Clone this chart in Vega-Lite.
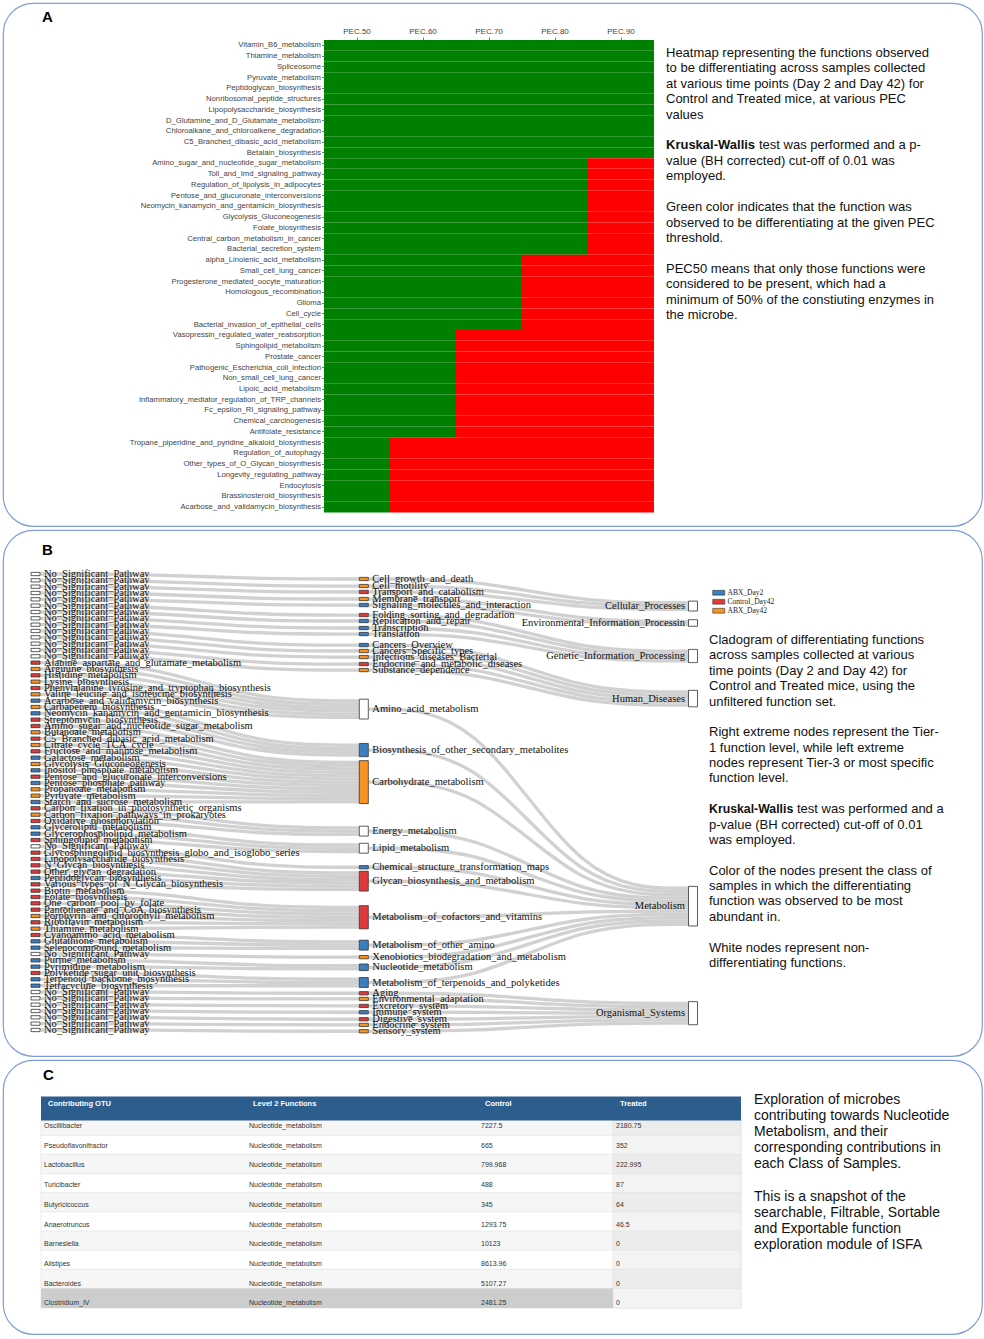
{
"$schema": "https://vega.github.io/schema/vega-lite/v6.json",
"background": "white",
"padding": {"left": 2, "top": 2, "right": 2, "bottom": 0},
"spacing": 2,
"config": {"font": "Liberation Sans", "view": {"continuousWidth": 300}},
"resolve": {"scale": {"fill": "independent", "size": "independent"}, "legend": {"fill": "independent"}},
"datasets": {
"heat": [
{"f":"Vitamin_B6_metabolism","p":"PEC.50","s":"Y"},{"f":"Vitamin_B6_metabolism","p":"PEC.60","s":"Y"},{"f":"Vitamin_B6_metabolism","p":"PEC.70","s":"Y"},{"f":"Vitamin_B6_metabolism","p":"PEC.80","s":"Y"},{"f":"Vitamin_B6_metabolism","p":"PEC.90","s":"Y"},
{"f":"Thiamine_metabolism","p":"PEC.50","s":"Y"},{"f":"Thiamine_metabolism","p":"PEC.60","s":"Y"},{"f":"Thiamine_metabolism","p":"PEC.70","s":"Y"},{"f":"Thiamine_metabolism","p":"PEC.80","s":"Y"},{"f":"Thiamine_metabolism","p":"PEC.90","s":"Y"},
{"f":"Spliceosome","p":"PEC.50","s":"Y"},{"f":"Spliceosome","p":"PEC.60","s":"Y"},{"f":"Spliceosome","p":"PEC.70","s":"Y"},{"f":"Spliceosome","p":"PEC.80","s":"Y"},{"f":"Spliceosome","p":"PEC.90","s":"Y"},
{"f":"Pyruvate_metabolism","p":"PEC.50","s":"Y"},{"f":"Pyruvate_metabolism","p":"PEC.60","s":"Y"},{"f":"Pyruvate_metabolism","p":"PEC.70","s":"Y"},{"f":"Pyruvate_metabolism","p":"PEC.80","s":"Y"},{"f":"Pyruvate_metabolism","p":"PEC.90","s":"Y"},
{"f":"Peptidoglycan_biosynthesis","p":"PEC.50","s":"Y"},{"f":"Peptidoglycan_biosynthesis","p":"PEC.60","s":"Y"},{"f":"Peptidoglycan_biosynthesis","p":"PEC.70","s":"Y"},{"f":"Peptidoglycan_biosynthesis","p":"PEC.80","s":"Y"},{"f":"Peptidoglycan_biosynthesis","p":"PEC.90","s":"Y"},
{"f":"Nonribosomal_peptide_structures","p":"PEC.50","s":"Y"},{"f":"Nonribosomal_peptide_structures","p":"PEC.60","s":"Y"},{"f":"Nonribosomal_peptide_structures","p":"PEC.70","s":"Y"},{"f":"Nonribosomal_peptide_structures","p":"PEC.80","s":"Y"},{"f":"Nonribosomal_peptide_structures","p":"PEC.90","s":"Y"},
{"f":"Lipopolysaccharide_biosynthesis","p":"PEC.50","s":"Y"},{"f":"Lipopolysaccharide_biosynthesis","p":"PEC.60","s":"Y"},{"f":"Lipopolysaccharide_biosynthesis","p":"PEC.70","s":"Y"},{"f":"Lipopolysaccharide_biosynthesis","p":"PEC.80","s":"Y"},{"f":"Lipopolysaccharide_biosynthesis","p":"PEC.90","s":"Y"},
{"f":"D_Glutamine_and_D_Glutamate_metabolism","p":"PEC.50","s":"Y"},{"f":"D_Glutamine_and_D_Glutamate_metabolism","p":"PEC.60","s":"Y"},{"f":"D_Glutamine_and_D_Glutamate_metabolism","p":"PEC.70","s":"Y"},{"f":"D_Glutamine_and_D_Glutamate_metabolism","p":"PEC.80","s":"Y"},{"f":"D_Glutamine_and_D_Glutamate_metabolism","p":"PEC.90","s":"Y"},
{"f":"Chloroalkane_and_chloroalkene_degradation","p":"PEC.50","s":"Y"},{"f":"Chloroalkane_and_chloroalkene_degradation","p":"PEC.60","s":"Y"},{"f":"Chloroalkane_and_chloroalkene_degradation","p":"PEC.70","s":"Y"},{"f":"Chloroalkane_and_chloroalkene_degradation","p":"PEC.80","s":"Y"},{"f":"Chloroalkane_and_chloroalkene_degradation","p":"PEC.90","s":"Y"},
{"f":"C5_Branched_dibasic_acid_metabolism","p":"PEC.50","s":"Y"},{"f":"C5_Branched_dibasic_acid_metabolism","p":"PEC.60","s":"Y"},{"f":"C5_Branched_dibasic_acid_metabolism","p":"PEC.70","s":"Y"},{"f":"C5_Branched_dibasic_acid_metabolism","p":"PEC.80","s":"Y"},{"f":"C5_Branched_dibasic_acid_metabolism","p":"PEC.90","s":"Y"},
{"f":"Betalain_biosynthesis","p":"PEC.50","s":"Y"},{"f":"Betalain_biosynthesis","p":"PEC.60","s":"Y"},{"f":"Betalain_biosynthesis","p":"PEC.70","s":"Y"},{"f":"Betalain_biosynthesis","p":"PEC.80","s":"Y"},{"f":"Betalain_biosynthesis","p":"PEC.90","s":"Y"},
{"f":"Amino_sugar_and_nucleotide_sugar_metabolism","p":"PEC.50","s":"Y"},{"f":"Amino_sugar_and_nucleotide_sugar_metabolism","p":"PEC.60","s":"Y"},{"f":"Amino_sugar_and_nucleotide_sugar_metabolism","p":"PEC.70","s":"Y"},{"f":"Amino_sugar_and_nucleotide_sugar_metabolism","p":"PEC.80","s":"Y"},{"f":"Amino_sugar_and_nucleotide_sugar_metabolism","p":"PEC.90","s":"N"},
{"f":"Toll_and_Imd_signaling_pathway","p":"PEC.50","s":"Y"},{"f":"Toll_and_Imd_signaling_pathway","p":"PEC.60","s":"Y"},{"f":"Toll_and_Imd_signaling_pathway","p":"PEC.70","s":"Y"},{"f":"Toll_and_Imd_signaling_pathway","p":"PEC.80","s":"Y"},{"f":"Toll_and_Imd_signaling_pathway","p":"PEC.90","s":"N"},
{"f":"Regulation_of_lipolysis_in_adipocytes","p":"PEC.50","s":"Y"},{"f":"Regulation_of_lipolysis_in_adipocytes","p":"PEC.60","s":"Y"},{"f":"Regulation_of_lipolysis_in_adipocytes","p":"PEC.70","s":"Y"},{"f":"Regulation_of_lipolysis_in_adipocytes","p":"PEC.80","s":"Y"},{"f":"Regulation_of_lipolysis_in_adipocytes","p":"PEC.90","s":"N"},
{"f":"Pentose_and_glucuronate_interconversions","p":"PEC.50","s":"Y"},{"f":"Pentose_and_glucuronate_interconversions","p":"PEC.60","s":"Y"},{"f":"Pentose_and_glucuronate_interconversions","p":"PEC.70","s":"Y"},{"f":"Pentose_and_glucuronate_interconversions","p":"PEC.80","s":"Y"},{"f":"Pentose_and_glucuronate_interconversions","p":"PEC.90","s":"N"},
{"f":"Neomycin_kanamycin_and_gentamicin_biosynthesis","p":"PEC.50","s":"Y"},{"f":"Neomycin_kanamycin_and_gentamicin_biosynthesis","p":"PEC.60","s":"Y"},{"f":"Neomycin_kanamycin_and_gentamicin_biosynthesis","p":"PEC.70","s":"Y"},{"f":"Neomycin_kanamycin_and_gentamicin_biosynthesis","p":"PEC.80","s":"Y"},{"f":"Neomycin_kanamycin_and_gentamicin_biosynthesis","p":"PEC.90","s":"N"},
{"f":"Glycolysis_Gluconeogenesis","p":"PEC.50","s":"Y"},{"f":"Glycolysis_Gluconeogenesis","p":"PEC.60","s":"Y"},{"f":"Glycolysis_Gluconeogenesis","p":"PEC.70","s":"Y"},{"f":"Glycolysis_Gluconeogenesis","p":"PEC.80","s":"Y"},{"f":"Glycolysis_Gluconeogenesis","p":"PEC.90","s":"N"},
{"f":"Folate_biosynthesis","p":"PEC.50","s":"Y"},{"f":"Folate_biosynthesis","p":"PEC.60","s":"Y"},{"f":"Folate_biosynthesis","p":"PEC.70","s":"Y"},{"f":"Folate_biosynthesis","p":"PEC.80","s":"Y"},{"f":"Folate_biosynthesis","p":"PEC.90","s":"N"},
{"f":"Central_carbon_metabolism_in_cancer","p":"PEC.50","s":"Y"},{"f":"Central_carbon_metabolism_in_cancer","p":"PEC.60","s":"Y"},{"f":"Central_carbon_metabolism_in_cancer","p":"PEC.70","s":"Y"},{"f":"Central_carbon_metabolism_in_cancer","p":"PEC.80","s":"Y"},{"f":"Central_carbon_metabolism_in_cancer","p":"PEC.90","s":"N"},
{"f":"Bacterial_secretion_system","p":"PEC.50","s":"Y"},{"f":"Bacterial_secretion_system","p":"PEC.60","s":"Y"},{"f":"Bacterial_secretion_system","p":"PEC.70","s":"Y"},{"f":"Bacterial_secretion_system","p":"PEC.80","s":"Y"},{"f":"Bacterial_secretion_system","p":"PEC.90","s":"N"},
{"f":"alpha_Linolenic_acid_metabolism","p":"PEC.50","s":"Y"},{"f":"alpha_Linolenic_acid_metabolism","p":"PEC.60","s":"Y"},{"f":"alpha_Linolenic_acid_metabolism","p":"PEC.70","s":"Y"},{"f":"alpha_Linolenic_acid_metabolism","p":"PEC.80","s":"N"},{"f":"alpha_Linolenic_acid_metabolism","p":"PEC.90","s":"N"},
{"f":"Small_cell_lung_cancer","p":"PEC.50","s":"Y"},{"f":"Small_cell_lung_cancer","p":"PEC.60","s":"Y"},{"f":"Small_cell_lung_cancer","p":"PEC.70","s":"Y"},{"f":"Small_cell_lung_cancer","p":"PEC.80","s":"N"},{"f":"Small_cell_lung_cancer","p":"PEC.90","s":"N"},
{"f":"Progesterone_mediated_oocyte_maturation","p":"PEC.50","s":"Y"},{"f":"Progesterone_mediated_oocyte_maturation","p":"PEC.60","s":"Y"},{"f":"Progesterone_mediated_oocyte_maturation","p":"PEC.70","s":"Y"},{"f":"Progesterone_mediated_oocyte_maturation","p":"PEC.80","s":"N"},{"f":"Progesterone_mediated_oocyte_maturation","p":"PEC.90","s":"N"},
{"f":"Homologous_recombination","p":"PEC.50","s":"Y"},{"f":"Homologous_recombination","p":"PEC.60","s":"Y"},{"f":"Homologous_recombination","p":"PEC.70","s":"Y"},{"f":"Homologous_recombination","p":"PEC.80","s":"N"},{"f":"Homologous_recombination","p":"PEC.90","s":"N"},
{"f":"Glioma","p":"PEC.50","s":"Y"},{"f":"Glioma","p":"PEC.60","s":"Y"},{"f":"Glioma","p":"PEC.70","s":"Y"},{"f":"Glioma","p":"PEC.80","s":"N"},{"f":"Glioma","p":"PEC.90","s":"N"},
{"f":"Cell_cycle","p":"PEC.50","s":"Y"},{"f":"Cell_cycle","p":"PEC.60","s":"Y"},{"f":"Cell_cycle","p":"PEC.70","s":"Y"},{"f":"Cell_cycle","p":"PEC.80","s":"N"},{"f":"Cell_cycle","p":"PEC.90","s":"N"},
{"f":"Bacterial_invasion_of_epithelial_cells","p":"PEC.50","s":"Y"},{"f":"Bacterial_invasion_of_epithelial_cells","p":"PEC.60","s":"Y"},{"f":"Bacterial_invasion_of_epithelial_cells","p":"PEC.70","s":"Y"},{"f":"Bacterial_invasion_of_epithelial_cells","p":"PEC.80","s":"N"},{"f":"Bacterial_invasion_of_epithelial_cells","p":"PEC.90","s":"N"},
{"f":"Vasopressin_regulated_water_reabsorption","p":"PEC.50","s":"Y"},{"f":"Vasopressin_regulated_water_reabsorption","p":"PEC.60","s":"Y"},{"f":"Vasopressin_regulated_water_reabsorption","p":"PEC.70","s":"N"},{"f":"Vasopressin_regulated_water_reabsorption","p":"PEC.80","s":"N"},{"f":"Vasopressin_regulated_water_reabsorption","p":"PEC.90","s":"N"},
{"f":"Sphingolipid_metabolism","p":"PEC.50","s":"Y"},{"f":"Sphingolipid_metabolism","p":"PEC.60","s":"Y"},{"f":"Sphingolipid_metabolism","p":"PEC.70","s":"N"},{"f":"Sphingolipid_metabolism","p":"PEC.80","s":"N"},{"f":"Sphingolipid_metabolism","p":"PEC.90","s":"N"},
{"f":"Prostate_cancer","p":"PEC.50","s":"Y"},{"f":"Prostate_cancer","p":"PEC.60","s":"Y"},{"f":"Prostate_cancer","p":"PEC.70","s":"N"},{"f":"Prostate_cancer","p":"PEC.80","s":"N"},{"f":"Prostate_cancer","p":"PEC.90","s":"N"},
{"f":"Pathogenic_Escherichia_coli_infection","p":"PEC.50","s":"Y"},{"f":"Pathogenic_Escherichia_coli_infection","p":"PEC.60","s":"Y"},{"f":"Pathogenic_Escherichia_coli_infection","p":"PEC.70","s":"N"},{"f":"Pathogenic_Escherichia_coli_infection","p":"PEC.80","s":"N"},{"f":"Pathogenic_Escherichia_coli_infection","p":"PEC.90","s":"N"},
{"f":"Non_small_cell_lung_cancer","p":"PEC.50","s":"Y"},{"f":"Non_small_cell_lung_cancer","p":"PEC.60","s":"Y"},{"f":"Non_small_cell_lung_cancer","p":"PEC.70","s":"N"},{"f":"Non_small_cell_lung_cancer","p":"PEC.80","s":"N"},{"f":"Non_small_cell_lung_cancer","p":"PEC.90","s":"N"},
{"f":"Lipoic_acid_metabolism","p":"PEC.50","s":"Y"},{"f":"Lipoic_acid_metabolism","p":"PEC.60","s":"Y"},{"f":"Lipoic_acid_metabolism","p":"PEC.70","s":"N"},{"f":"Lipoic_acid_metabolism","p":"PEC.80","s":"N"},{"f":"Lipoic_acid_metabolism","p":"PEC.90","s":"N"},
{"f":"Inflammatory_mediator_regulation_of_TRP_channels","p":"PEC.50","s":"Y"},{"f":"Inflammatory_mediator_regulation_of_TRP_channels","p":"PEC.60","s":"Y"},{"f":"Inflammatory_mediator_regulation_of_TRP_channels","p":"PEC.70","s":"N"},{"f":"Inflammatory_mediator_regulation_of_TRP_channels","p":"PEC.80","s":"N"},{"f":"Inflammatory_mediator_regulation_of_TRP_channels","p":"PEC.90","s":"N"},
{"f":"Fc_epsilon_RI_signaling_pathway","p":"PEC.50","s":"Y"},{"f":"Fc_epsilon_RI_signaling_pathway","p":"PEC.60","s":"Y"},{"f":"Fc_epsilon_RI_signaling_pathway","p":"PEC.70","s":"N"},{"f":"Fc_epsilon_RI_signaling_pathway","p":"PEC.80","s":"N"},{"f":"Fc_epsilon_RI_signaling_pathway","p":"PEC.90","s":"N"},
{"f":"Chemical_carcinogenesis","p":"PEC.50","s":"Y"},{"f":"Chemical_carcinogenesis","p":"PEC.60","s":"Y"},{"f":"Chemical_carcinogenesis","p":"PEC.70","s":"N"},{"f":"Chemical_carcinogenesis","p":"PEC.80","s":"N"},{"f":"Chemical_carcinogenesis","p":"PEC.90","s":"N"},
{"f":"Antifolate_resistance","p":"PEC.50","s":"Y"},{"f":"Antifolate_resistance","p":"PEC.60","s":"Y"},{"f":"Antifolate_resistance","p":"PEC.70","s":"N"},{"f":"Antifolate_resistance","p":"PEC.80","s":"N"},{"f":"Antifolate_resistance","p":"PEC.90","s":"N"},
{"f":"Tropane_piperidine_and_pyridine_alkaloid_biosynthesis","p":"PEC.50","s":"Y"},{"f":"Tropane_piperidine_and_pyridine_alkaloid_biosynthesis","p":"PEC.60","s":"N"},{"f":"Tropane_piperidine_and_pyridine_alkaloid_biosynthesis","p":"PEC.70","s":"N"},{"f":"Tropane_piperidine_and_pyridine_alkaloid_biosynthesis","p":"PEC.80","s":"N"},{"f":"Tropane_piperidine_and_pyridine_alkaloid_biosynthesis","p":"PEC.90","s":"N"},
{"f":"Regulation_of_autophagy","p":"PEC.50","s":"Y"},{"f":"Regulation_of_autophagy","p":"PEC.60","s":"N"},{"f":"Regulation_of_autophagy","p":"PEC.70","s":"N"},{"f":"Regulation_of_autophagy","p":"PEC.80","s":"N"},{"f":"Regulation_of_autophagy","p":"PEC.90","s":"N"},
{"f":"Other_types_of_O_Glycan_biosynthesis","p":"PEC.50","s":"Y"},{"f":"Other_types_of_O_Glycan_biosynthesis","p":"PEC.60","s":"N"},{"f":"Other_types_of_O_Glycan_biosynthesis","p":"PEC.70","s":"N"},{"f":"Other_types_of_O_Glycan_biosynthesis","p":"PEC.80","s":"N"},{"f":"Other_types_of_O_Glycan_biosynthesis","p":"PEC.90","s":"N"},
{"f":"Longevity_regulating_pathway","p":"PEC.50","s":"Y"},{"f":"Longevity_regulating_pathway","p":"PEC.60","s":"N"},{"f":"Longevity_regulating_pathway","p":"PEC.70","s":"N"},{"f":"Longevity_regulating_pathway","p":"PEC.80","s":"N"},{"f":"Longevity_regulating_pathway","p":"PEC.90","s":"N"},
{"f":"Endocytosis","p":"PEC.50","s":"Y"},{"f":"Endocytosis","p":"PEC.60","s":"N"},{"f":"Endocytosis","p":"PEC.70","s":"N"},{"f":"Endocytosis","p":"PEC.80","s":"N"},{"f":"Endocytosis","p":"PEC.90","s":"N"},
{"f":"Brassinosteroid_biosynthesis","p":"PEC.50","s":"Y"},{"f":"Brassinosteroid_biosynthesis","p":"PEC.60","s":"N"},{"f":"Brassinosteroid_biosynthesis","p":"PEC.70","s":"N"},{"f":"Brassinosteroid_biosynthesis","p":"PEC.80","s":"N"},{"f":"Brassinosteroid_biosynthesis","p":"PEC.90","s":"N"},
{"f":"Acarbose_and_validamycin_biosynthesis","p":"PEC.50","s":"Y"},{"f":"Acarbose_and_validamycin_biosynthesis","p":"PEC.60","s":"N"},{"f":"Acarbose_and_validamycin_biosynthesis","p":"PEC.70","s":"N"},{"f":"Acarbose_and_validamycin_biosynthesis","p":"PEC.80","s":"N"},{"f":"Acarbose_and_validamycin_biosynthesis","p":"PEC.90","s":"N"}
],
"pA": [
{"line":0,"k":"n","t":"Heatmap representing the functions observed"},
{"line":1,"k":"n","t":"to be differentiating across samples collected"},
{"line":2,"k":"n","t":"at various time points (Day 2 and Day 42) for"},
{"line":3,"k":"n","t":"Control and Treated mice, at various PEC"},
{"line":4,"k":"n","t":"values"},
{"line":6,"k":"b","t":"Kruskal-Wallis"},
{"line":6,"k":"a","t":"test was performed and a p-"},
{"line":7,"k":"n","t":"value (BH corrected) cut-off of 0.01 was"},
{"line":8,"k":"n","t":"employed."},
{"line":10,"k":"n","t":"Green color indicates that the function was"},
{"line":11,"k":"n","t":"observed to be differentiating at the given PEC"},
{"line":12,"k":"n","t":"threshold."},
{"line":14,"k":"n","t":"PEC50 means that only those functions were"},
{"line":15,"k":"n","t":"considered to be present, which had a"},
{"line":16,"k":"n","t":"minimum of 50% of the constiuting enzymes in"},
{"line":17,"k":"n","t":"the microbe."}
],
"pB": [
{"line":0,"k":"n","t":"Cladogram of differentiating functions"},
{"line":1,"k":"n","t":"across samples collected at various"},
{"line":2,"k":"n","t":"time points (Day 2 and Day 42) for"},
{"line":3,"k":"n","t":"Control and Treated mice, using the"},
{"line":4,"k":"n","t":"unfiltered function set."},
{"line":6,"k":"n","t":"Right extreme nodes represent the Tier-"},
{"line":7,"k":"n","t":"1 function level, while left extreme"},
{"line":8,"k":"n","t":"nodes represent Tier-3 or most specific"},
{"line":9,"k":"n","t":"function level."},
{"line":11,"k":"b","t":"Kruskal-Wallis"},
{"line":11,"k":"a","t":"test was performed and a"},
{"line":12,"k":"n","t":"p-value (BH corrected) cut-off of 0.01"},
{"line":13,"k":"n","t":"was employed."},
{"line":15,"k":"n","t":"Color of the nodes present the class of"},
{"line":16,"k":"n","t":"samples in which the differentiating"},
{"line":17,"k":"n","t":"function was observed to be most"},
{"line":18,"k":"n","t":"abundant in."},
{"line":20,"k":"n","t":"White nodes represent non-"},
{"line":21,"k":"n","t":"differentiating functions."}
],
"pC": [
{"line":0,"t":"Exploration of microbes"},
{"line":1,"t":"contributing towards Nucleotide"},
{"line":2,"t":"Metabolism, and their"},
{"line":3,"t":"corresponding contributions in"},
{"line":4,"t":"each Class of Samples."},
{"line":6,"t":"This is a snapshot of the"},
{"line":7,"t":"searchable, Filtrable, Sortable"},
{"line":8,"t":"and Exportable function"},
{"line":9,"t":"exploration module of ISFA"}
],
"nodes": [
{"name":"No_Significant_Pathway","col":0,"pos":0,"n":1,"cls":"None"},
{"name":"No_Significant_Pathway","col":0,"pos":1,"n":1,"cls":"None"},
{"name":"No_Significant_Pathway","col":0,"pos":2,"n":1,"cls":"None"},
{"name":"No_Significant_Pathway","col":0,"pos":3,"n":1,"cls":"None"},
{"name":"No_Significant_Pathway","col":0,"pos":4,"n":1,"cls":"None"},
{"name":"No_Significant_Pathway","col":0,"pos":5,"n":1,"cls":"None"},
{"name":"No_Significant_Pathway","col":0,"pos":6,"n":1,"cls":"None"},
{"name":"No_Significant_Pathway","col":0,"pos":7,"n":1,"cls":"None"},
{"name":"No_Significant_Pathway","col":0,"pos":8,"n":1,"cls":"None"},
{"name":"No_Significant_Pathway","col":0,"pos":9,"n":1,"cls":"None"},
{"name":"No_Significant_Pathway","col":0,"pos":10,"n":1,"cls":"None"},
{"name":"No_Significant_Pathway","col":0,"pos":11,"n":1,"cls":"None"},
{"name":"No_Significant_Pathway","col":0,"pos":12,"n":1,"cls":"None"},
{"name":"No_Significant_Pathway","col":0,"pos":13,"n":1,"cls":"None"},
{"name":"Alanine_aspartate_and_glutamate_metabolism","col":0,"pos":14,"n":1,"cls":"Control_Day42"},
{"name":"Arginine_biosynthesis","col":0,"pos":15,"n":1,"cls":"ABX_Day42"},
{"name":"Histidine_metabolism","col":0,"pos":16,"n":1,"cls":"Control_Day42"},
{"name":"Lysine_biosynthesis","col":0,"pos":17,"n":1,"cls":"ABX_Day42"},
{"name":"Phenylalanine_tyrosine_and_tryptophan_biosynthesis","col":0,"pos":18,"n":1,"cls":"Control_Day42"},
{"name":"Valine_leucine_and_isoleucine_biosynthesis","col":0,"pos":19,"n":1,"cls":"ABX_Day42"},
{"name":"Acarbose_and_validamycin_biosynthesis","col":0,"pos":20,"n":1,"cls":"ABX_Day2"},
{"name":"Carbapenem_biosynthesis","col":0,"pos":21,"n":1,"cls":"ABX_Day42"},
{"name":"Neomycin_kanamycin_and_gentamicin_biosynthesis","col":0,"pos":22,"n":1,"cls":"ABX_Day2"},
{"name":"Streptomycin_biosynthesis","col":0,"pos":23,"n":1,"cls":"Control_Day42"},
{"name":"Amino_sugar_and_nucleotide_sugar_metabolism","col":0,"pos":24,"n":1,"cls":"Control_Day42"},
{"name":"Butanoate_metabolism","col":0,"pos":25,"n":1,"cls":"ABX_Day42"},
{"name":"C5_Branched_dibasic_acid_metabolism","col":0,"pos":26,"n":1,"cls":"Control_Day42"},
{"name":"Citrate_cycle_TCA_cycle","col":0,"pos":27,"n":1,"cls":"ABX_Day42"},
{"name":"Fructose_and_mannose_metabolism","col":0,"pos":28,"n":1,"cls":"Control_Day42"},
{"name":"Galactose_metabolism","col":0,"pos":29,"n":1,"cls":"ABX_Day2"},
{"name":"Glycolysis_Gluconeogenesis","col":0,"pos":30,"n":1,"cls":"ABX_Day42"},
{"name":"Inositol_phosphate_metabolism","col":0,"pos":31,"n":1,"cls":"ABX_Day2"},
{"name":"Pentose_and_glucuronate_interconversions","col":0,"pos":32,"n":1,"cls":"Control_Day42"},
{"name":"Pentose_phosphate_pathway","col":0,"pos":33,"n":1,"cls":"ABX_Day2"},
{"name":"Propanoate_metabolism","col":0,"pos":34,"n":1,"cls":"ABX_Day42"},
{"name":"Pyruvate_metabolism","col":0,"pos":35,"n":1,"cls":"ABX_Day42"},
{"name":"Starch_and_sucrose_metabolism","col":0,"pos":36,"n":1,"cls":"ABX_Day2"},
{"name":"Carbon_fixation_in_photosynthetic_organisms","col":0,"pos":37,"n":1,"cls":"Control_Day42"},
{"name":"Carbon_fixation_pathways_in_prokaryotes","col":0,"pos":38,"n":1,"cls":"ABX_Day42"},
{"name":"Oxidative_phosphorylation","col":0,"pos":39,"n":1,"cls":"Control_Day42"},
{"name":"Glycerolipid_metabolism","col":0,"pos":40,"n":1,"cls":"ABX_Day2"},
{"name":"Glycerophospholipid_metabolism","col":0,"pos":41,"n":1,"cls":"ABX_Day2"},
{"name":"Sphingolipid_metabolism","col":0,"pos":42,"n":1,"cls":"Control_Day42"},
{"name":"No_Significant_Pathway","col":0,"pos":43,"n":1,"cls":"None"},
{"name":"Glycosphingolipid_biosynthesis_globo_and_isoglobo_series","col":0,"pos":44,"n":1,"cls":"Control_Day42"},
{"name":"Lipopolysaccharide_biosynthesis","col":0,"pos":45,"n":1,"cls":"Control_Day42"},
{"name":"N_Glycan_biosynthesis","col":0,"pos":46,"n":1,"cls":"Control_Day42"},
{"name":"Other_glycan_degradation","col":0,"pos":47,"n":1,"cls":"Control_Day42"},
{"name":"Peptidoglycan_biosynthesis","col":0,"pos":48,"n":1,"cls":"ABX_Day2"},
{"name":"Various_types_of_N_Glycan_biosynthesis","col":0,"pos":49,"n":1,"cls":"Control_Day42"},
{"name":"Biotin_metabolism","col":0,"pos":50,"n":1,"cls":"Control_Day42"},
{"name":"Folate_biosynthesis","col":0,"pos":51,"n":1,"cls":"Control_Day42"},
{"name":"One_carbon_pool_by_folate","col":0,"pos":52,"n":1,"cls":"Control_Day42"},
{"name":"Pantothenate_and_CoA_biosynthesis","col":0,"pos":53,"n":1,"cls":"Control_Day42"},
{"name":"Porphyrin_and_chlorophyll_metabolism","col":0,"pos":54,"n":1,"cls":"ABX_Day42"},
{"name":"Riboflavin_metabolism","col":0,"pos":55,"n":1,"cls":"Control_Day42"},
{"name":"Thiamine_metabolism","col":0,"pos":56,"n":1,"cls":"ABX_Day42"},
{"name":"Cyanoamino_acid_metabolism","col":0,"pos":57,"n":1,"cls":"Control_Day42"},
{"name":"Glutathione_metabolism","col":0,"pos":58,"n":1,"cls":"ABX_Day2"},
{"name":"Selenocompound_metabolism","col":0,"pos":59,"n":1,"cls":"ABX_Day2"},
{"name":"No_Significant_Pathway","col":0,"pos":60,"n":1,"cls":"None"},
{"name":"Purine_metabolism","col":0,"pos":61,"n":1,"cls":"ABX_Day2"},
{"name":"Pyrimidine_metabolism","col":0,"pos":62,"n":1,"cls":"ABX_Day2"},
{"name":"Polyketide_sugar_unit_biosynthesis","col":0,"pos":63,"n":1,"cls":"Control_Day42"},
{"name":"Terpenoid_backbone_biosynthesis","col":0,"pos":64,"n":1,"cls":"ABX_Day2"},
{"name":"Tetracycline_biosynthesis","col":0,"pos":65,"n":1,"cls":"ABX_Day2"},
{"name":"No_Significant_Pathway","col":0,"pos":66,"n":1,"cls":"None"},
{"name":"No_Significant_Pathway","col":0,"pos":67,"n":1,"cls":"None"},
{"name":"No_Significant_Pathway","col":0,"pos":68,"n":1,"cls":"None"},
{"name":"No_Significant_Pathway","col":0,"pos":69,"n":1,"cls":"None"},
{"name":"No_Significant_Pathway","col":0,"pos":70,"n":1,"cls":"None"},
{"name":"No_Significant_Pathway","col":0,"pos":71,"n":1,"cls":"None"},
{"name":"No_Significant_Pathway","col":0,"pos":72,"n":1,"cls":"None"},
{"name":"Cell_growth_and_death","col":1,"pos":0.79,"n":1,"cls":"ABX_Day42"},
{"name":"Cell_motility","col":1,"pos":1.9,"n":1,"cls":"ABX_Day42"},
{"name":"Transport_and_catabolism","col":1,"pos":2.84,"n":1,"cls":"Control_Day42"},
{"name":"Membrane_transport","col":1,"pos":3.95,"n":1,"cls":"ABX_Day42"},
{"name":"Signaling_molecules_and_interaction","col":1,"pos":4.9,"n":1,"cls":"ABX_Day2"},
{"name":"Folding_sorting_and_degradation","col":1,"pos":6.48,"n":1,"cls":"Control_Day42"},
{"name":"Replication_and_repair","col":1,"pos":7.42,"n":1,"cls":"ABX_Day2"},
{"name":"Transcription","col":1,"pos":8.53,"n":1,"cls":"ABX_Day2"},
{"name":"Translation","col":1,"pos":9.48,"n":1,"cls":"ABX_Day2"},
{"name":"Cancers_Overview","col":1,"pos":11.22,"n":1,"cls":"ABX_Day2"},
{"name":"Cancers_Specific_types","col":1,"pos":12.16,"n":1,"cls":"ABX_Day42"},
{"name":"Infectious_diseases_Bacterial","col":1,"pos":13.11,"n":1,"cls":"ABX_Day42"},
{"name":"Endocrine_and_metabolic_diseases","col":1,"pos":14.22,"n":1,"cls":"Control_Day42"},
{"name":"Substance_dependence","col":1,"pos":15.17,"n":1,"cls":"ABX_Day42"},
{"name":"Amino_acid_metabolism","col":1,"pos":21.33,"n":6,"cls":"None"},
{"name":"Biosynthesis_of_other_secondary_metabolites","col":1,"pos":27.8,"n":4,"cls":"ABX_Day2"},
{"name":"Carbohydrate_metabolism","col":1,"pos":32.86,"n":13,"cls":"ABX_Day42"},
{"name":"Energy_metabolism","col":1,"pos":40.6,"n":3,"cls":"None"},
{"name":"Lipid_metabolism","col":1,"pos":43.3,"n":3,"cls":"None"},
{"name":"Chemical_structure_transformation_maps","col":1,"pos":46.3,"n":1,"cls":"ABX_Day2"},
{"name":"Glycan_biosynthesis_and_metabolism","col":1,"pos":48.5,"n":6,"cls":"Control_Day42"},
{"name":"Metabolism_of_cofactors_and_vitamins","col":1,"pos":54.2,"n":7,"cls":"Control_Day42"},
{"name":"Metabolism_of_other_amino","col":1,"pos":58.6,"n":3,"cls":"ABX_Day2"},
{"name":"Xenobiotics_biodegradation_and_metabolism","col":1,"pos":60.5,"n":1,"cls":"ABX_Day42"},
{"name":"Nucleotide_metabolism","col":1,"pos":62.1,"n":2,"cls":"ABX_Day2"},
{"name":"Metabolism_of_terpenoids_and_polyketides","col":1,"pos":64.5,"n":3,"cls":"ABX_Day2"},
{"name":"Aging","col":1,"pos":66.2,"n":1,"cls":"Control_Day42"},
{"name":"Environmental_adaptation","col":1,"pos":67.1,"n":1,"cls":"ABX_Day42"},
{"name":"Excretory_system","col":1,"pos":68.2,"n":1,"cls":"Control_Day42"},
{"name":"Immune_system","col":1,"pos":69.2,"n":1,"cls":"ABX_Day2"},
{"name":"Digestive_system","col":1,"pos":70.3,"n":1,"cls":"Control_Day42"},
{"name":"Endocrine_system","col":1,"pos":71.2,"n":1,"cls":"ABX_Day42"},
{"name":"Sensory_system","col":1,"pos":72.2,"n":1,"cls":"ABX_Day42"},
{"name":"Cellular_Processes","col":2,"pos":5.06,"n":3,"cls":"None"},
{"name":"Environmental_Information_Processin","col":2,"pos":7.74,"n":2,"cls":"None"},
{"name":"Genetic_Information_Processing","col":2,"pos":12.95,"n":4,"cls":"None"},
{"name":"Human_Diseases","col":2,"pos":19.67,"n":5,"cls":"None"},
{"name":"Metabolism","col":2,"pos":52.45,"n":12,"cls":"None"},
{"name":"Organismal_Systems","col":2,"pos":69.35,"n":7,"cls":"None"}
],
"links1": [
{"a":0,"b":0.79},{"a":1,"b":1.9},{"a":2,"b":2.84},{"a":3,"b":3.95},{"a":4,"b":4.9},{"a":5,"b":6.48},{"a":6,"b":7.42},{"a":7,"b":8.53},{"a":8,"b":9.48},{"a":9,"b":11.22},{"a":10,"b":12.16},{"a":11,"b":13.11},{"a":12,"b":14.22},{"a":13,"b":15.17},
{"a":14,"b":20.03},{"a":15,"b":20.55},{"a":16,"b":21.07},{"a":17,"b":21.59},{"a":18,"b":22.11},{"a":19,"b":22.63},
{"a":20,"b":27.02},{"a":21,"b":27.54},{"a":22,"b":28.06},{"a":23,"b":28.58},
{"a":24,"b":29.74},{"a":25,"b":30.26},{"a":26,"b":30.78},{"a":27,"b":31.3},{"a":28,"b":31.82},{"a":29,"b":32.34},{"a":30,"b":32.86},{"a":31,"b":33.38},{"a":32,"b":33.9},{"a":33,"b":34.42},{"a":34,"b":34.94},{"a":35,"b":35.46},{"a":36,"b":35.98},
{"a":37,"b":40.08},{"a":38,"b":40.6},{"a":39,"b":41.12},
{"a":40,"b":42.78},{"a":41,"b":43.3},{"a":42,"b":43.82},
{"a":43,"b":46.3},
{"a":44,"b":47.2},{"a":45,"b":47.72},{"a":46,"b":48.24},{"a":47,"b":48.76},{"a":48,"b":49.28},{"a":49,"b":49.8},
{"a":50,"b":52.64},{"a":51,"b":53.16},{"a":52,"b":53.68},{"a":53,"b":54.2},{"a":54,"b":54.72},{"a":55,"b":55.24},{"a":56,"b":55.76},
{"a":57,"b":58.08},{"a":58,"b":58.6},{"a":59,"b":59.12},
{"a":60,"b":60.5},
{"a":61,"b":61.84},{"a":62,"b":62.36},
{"a":63,"b":63.98},{"a":64,"b":64.5},{"a":65,"b":65.02},
{"a":66,"b":66.2},{"a":67,"b":67.1},{"a":68,"b":68.2},{"a":69,"b":69.2},{"a":70,"b":70.3},{"a":71,"b":71.2},{"a":72,"b":72.2}
],
"links2": [
{"a":0.79,"b":4.54},{"a":1.9,"b":5.06},{"a":2.84,"b":5.58},
{"a":3.95,"b":7.48},{"a":4.9,"b":8.0},
{"a":6.48,"b":12.17},{"a":7.42,"b":12.69},{"a":8.53,"b":13.21},{"a":9.48,"b":13.73},
{"a":11.22,"b":18.63},{"a":12.16,"b":19.15},{"a":13.11,"b":19.67},{"a":14.22,"b":20.19},{"a":15.17,"b":20.71},
{"a":21.33,"b":49.59},{"a":27.8,"b":50.11},{"a":32.86,"b":50.63},{"a":40.6,"b":51.15},{"a":43.3,"b":51.67},{"a":46.3,"b":52.19},{"a":48.5,"b":52.71},{"a":54.2,"b":53.23},{"a":58.6,"b":53.75},{"a":60.5,"b":54.27},{"a":62.1,"b":54.79},{"a":64.5,"b":55.31},
{"a":66.2,"b":67.79},{"a":67.1,"b":68.31},{"a":68.2,"b":68.83},{"a":69.2,"b":69.35},{"a":70.3,"b":69.87},{"a":71.2,"b":70.39},{"a":72.2,"b":70.91}
],
"tcells": [
{"r":0,"c":0,"v":"Contributing OTU"},{"r":0,"c":1,"v":"Level 2 Functions"},{"r":0,"c":2,"v":"Control"},{"r":0,"c":3,"v":"Treated"},
{"r":1,"c":0,"v":"Oscillibacter"},{"r":1,"c":1,"v":"Nucleotide_metabolism"},{"r":1,"c":2,"v":7227.5},{"r":1,"c":3,"v":2180.75},
{"r":2,"c":0,"v":"Pseudoflavonifractor"},{"r":2,"c":1,"v":"Nucleotide_metabolism"},{"r":2,"c":2,"v":665},{"r":2,"c":3,"v":352},
{"r":3,"c":0,"v":"Lactobacillus"},{"r":3,"c":1,"v":"Nucleotide_metabolism"},{"r":3,"c":2,"v":799.968},{"r":3,"c":3,"v":222.995},
{"r":4,"c":0,"v":"Turicibacter"},{"r":4,"c":1,"v":"Nucleotide_metabolism"},{"r":4,"c":2,"v":488},{"r":4,"c":3,"v":87},
{"r":5,"c":0,"v":"Butyricicoccus"},{"r":5,"c":1,"v":"Nucleotide_metabolism"},{"r":5,"c":2,"v":345},{"r":5,"c":3,"v":64},
{"r":6,"c":0,"v":"Anaerotruncus"},{"r":6,"c":1,"v":"Nucleotide_metabolism"},{"r":6,"c":2,"v":1293.75},{"r":6,"c":3,"v":46.5},
{"r":7,"c":0,"v":"Barnesiella"},{"r":7,"c":1,"v":"Nucleotide_metabolism"},{"r":7,"c":2,"v":10123},{"r":7,"c":3,"v":0},
{"r":8,"c":0,"v":"Alistipes"},{"r":8,"c":1,"v":"Nucleotide_metabolism"},{"r":8,"c":2,"v":8613.96},{"r":8,"c":3,"v":0},
{"r":9,"c":0,"v":"Bacteroides"},{"r":9,"c":1,"v":"Nucleotide_metabolism"},{"r":9,"c":2,"v":5107.27},{"r":9,"c":3,"v":0},
{"r":10,"c":0,"v":"Clostridium_IV"},{"r":10,"c":1,"v":"Nucleotide_metabolism"},{"r":10,"c":2,"v":2481.25},{"r":10,"c":3,"v":0}
]
},
"vconcat": [
{
"width": 979, "height": 523,
"view": {"stroke": "#7f9dd6", "strokeWidth": 1.2, "cornerRadius": 30, "fill": "white"},
"resolve": {"scale": {"x": "independent", "y": "independent"}},
"layer": [
{
"data": {"name": "heat"},
"mark": {"type": "rect"},
"encoding": {
"x": {"field": "p", "type": "ordinal", "sort": null, "scale": {"range": [321, 651], "paddingInner": 0, "paddingOuter": 0}, "axis": {"orient": "top", "offset": -37, "title": null, "domain": false, "grid": false, "tickSize": 3, "tickColor": "#777", "labelAngle": 0, "labelFontSize": 8, "labelColor": "#444", "labelPadding": 2, "labelFont": "Liberation Sans"}},
"y": {"field": "f", "type": "nominal", "sort": null, "scale": {"range": [37, 509.5], "paddingInner": 0, "paddingOuter": 0}, "axis": {"orient": "left", "offset": -321, "title": null, "domain": false, "grid": false, "tickSize": 2.5, "tickColor": "#777", "labelFontSize": 7.7, "labelColor": "#444", "labelPadding": 1, "labelLimit": 0, "labelFont": "Liberation Sans"}},
"fill": {"field": "s", "type": "nominal", "scale": {"domain": ["Y", "N"], "range": ["#008000", "#ff0000"]}, "legend": null}
}
},
{
"data": {"values": [{"panel": "A"}]},
"mark": {"type": "text", "align": "left", "baseline": "middle", "font": "Liberation Sans", "fontSize": 15, "fontWeight": "bold", "color": "#000"},
"encoding": {
"x": {"datum": 0, "type": "quantitative", "scale": {"domain": [0, 1], "range": [39, 60], "nice": false}, "axis": null},
"y": {"datum": 0, "type": "quantitative", "scale": {"domain": [0, 1], "range": [14, 30], "nice": false, "zero": false}, "axis": null},
"text": {"field": "panel"}
}
},
{
"data": {"name": "pA"},
"transform": [{"filter": "datum.k == 'n'"}],
"mark": {"type": "text", "align": "left", "baseline": "middle", "font": "Liberation Sans", "fontSize": 13, "color": "#111"},
"encoding": {
"x": {"datum": 0, "type": "quantitative", "scale": {"domain": [0, 1], "range": [663, 950], "nice": false}, "axis": null},
"y": {"field": "line", "type": "quantitative", "scale": {"domain": [0, 17], "range": [50, 312], "nice": false, "zero": false}, "axis": null},
"text": {"field": "t"}
}
},
{
"data": {"name": "pA"},
"transform": [{"filter": "datum.k == 'a'"}],
"mark": {"type": "text", "align": "left", "baseline": "middle", "dx": 93, "font": "Liberation Sans", "fontSize": 13, "color": "#111"},
"encoding": {
"x": {"datum": 0, "type": "quantitative", "scale": {"domain": [0, 1], "range": [663, 950], "nice": false}, "axis": null},
"y": {"field": "line", "type": "quantitative", "scale": {"domain": [0, 17], "range": [50, 312], "nice": false, "zero": false}, "axis": null},
"text": {"field": "t"}
}
},
{
"data": {"name": "pA"},
"transform": [{"filter": "datum.k == 'b'"}],
"mark": {"type": "text", "align": "left", "baseline": "middle", "font": "Liberation Sans", "fontSize": 13, "fontWeight": "bold", "color": "#111"},
"encoding": {
"x": {"datum": 0, "type": "quantitative", "scale": {"domain": [0, 1], "range": [663, 950], "nice": false}, "axis": null},
"y": {"field": "line", "type": "quantitative", "scale": {"domain": [0, 17], "range": [50, 312], "nice": false, "zero": false}, "axis": null},
"text": {"field": "t"}
}
}
]
},
{
"width": 979, "height": 526,
"view": {"stroke": "#7f9dd6", "strokeWidth": 1.2, "cornerRadius": 30, "fill": "white"},
"resolve": {"scale": {"x": "independent", "y": "independent"}},
"layer": [
{
"data": {"name": "links1"},
"transform": [{"fold": ["a", "a", "b", "b"], "as": ["k", "v"]}, {"window": [{"op": "row_number", "as": "s"}], "groupby": ["a"], "sort": [{"field": "k"}]}],
"mark": {"type": "line", "interpolate": "basis", "strokeWidth": 3.3, "stroke": "#b9b9b9", "opacity": 0.65},
"encoding": {
"x": {"field": "s", "type": "quantitative", "scale": {"domain": [1, 4], "range": [37.3, 356.3], "nice": false, "zero": false}, "axis": null},
"y": {"field": "v", "type": "quantitative", "scale": {"domain": [0, 72], "range": [44, 500], "nice": false, "zero": false}, "axis": null},
"detail": {"field": "a"}
}
},
{
"data": {"name": "links2"},
"transform": [{"fold": ["a", "a", "b", "b"], "as": ["k", "v"]}, {"window": [{"op": "row_number", "as": "s"}], "groupby": ["a"], "sort": [{"field": "k"}]}],
"mark": {"type": "line", "interpolate": "basis", "strokeWidth": 3.3, "stroke": "#b9b9b9", "opacity": 0.65},
"encoding": {
"x": {"field": "s", "type": "quantitative", "scale": {"domain": [1, 4], "range": [365.3, 686.3], "nice": false, "zero": false}, "axis": null},
"y": {"field": "v", "type": "quantitative", "scale": {"domain": [0, 72], "range": [44, 500], "nice": false, "zero": false}, "axis": null},
"detail": {"field": "a"}
}
},
{
"data": {"name": "nodes"},
"mark": {"type": "tick", "orient": "vertical", "thickness": 9, "stroke": "#333", "strokeWidth": 0.8, "opacity": 1},
"encoding": {
"x": {"field": "col", "type": "quantitative", "scale": {"domain": [0, 1, 2], "range": [32.5, 360.8, 690], "nice": false, "zero": false}, "axis": null},
"y": {"field": "pos", "type": "quantitative", "scale": {"domain": [0, 72], "range": [44, 500], "nice": false, "zero": false}, "axis": null},
"size": {"field": "n", "type": "quantitative", "scale": {"domain": [0, 13], "range": [0, 42.9]}, "legend": null},
"fill": {"field": "cls", "type": "nominal", "scale": {"domain": ["ABX_Day2", "Control_Day42", "ABX_Day42", "None"], "range": ["#3b7ec1", "#e2393d", "#f7931e", "#ffffff"]},
"legend": {"orient": "none", "legendX": 712, "legendY": 59, "title": null, "values": ["ABX_Day2", "Control_Day42", "ABX_Day42"], "symbolType": "M-2,-0.8H2V0.8H-2Z", "symbolSize": 36, "symbolStrokeColor": "#333", "symbolStrokeWidth": 0.6, "labelFont": "Liberation Serif", "labelFontSize": 7.5, "labelColor": "#222", "rowPadding": 0, "labelOffset": 5, "padding": 0}}
}
},
{
"data": {"name": "nodes"},
"transform": [{"filter": "datum.col < 2"}],
"mark": {"type": "text", "align": "left", "baseline": "middle", "dx": 8.5, "font": "Liberation Serif", "fontSize": 10.5, "color": "#111"},
"encoding": {
"x": {"field": "col", "type": "quantitative", "scale": {"domain": [0, 1, 2], "range": [32.5, 360.8, 690], "nice": false, "zero": false}, "axis": null},
"y": {"field": "pos", "type": "quantitative", "scale": {"domain": [0, 72], "range": [44, 500], "nice": false, "zero": false}, "axis": null},
"text": {"field": "name"}
}
},
{
"data": {"name": "nodes"},
"transform": [{"filter": "datum.col == 2"}],
"mark": {"type": "text", "align": "right", "baseline": "middle", "dx": -8, "font": "Liberation Serif", "fontSize": 10.5, "color": "#111"},
"encoding": {
"x": {"field": "col", "type": "quantitative", "scale": {"domain": [0, 1, 2], "range": [32.5, 360.8, 690], "nice": false, "zero": false}, "axis": null},
"y": {"field": "pos", "type": "quantitative", "scale": {"domain": [0, 72], "range": [44, 500], "nice": false, "zero": false}, "axis": null},
"text": {"field": "name"}
}
},
{
"data": {"values": [{"panel": "B"}]},
"mark": {"type": "text", "align": "left", "baseline": "middle", "font": "Liberation Sans", "fontSize": 15, "fontWeight": "bold", "color": "#000"},
"encoding": {
"x": {"datum": 0, "type": "quantitative", "scale": {"domain": [0, 1], "range": [39, 60], "nice": false}, "axis": null},
"y": {"datum": 0, "type": "quantitative", "scale": {"domain": [0, 1], "range": [20, 36], "nice": false, "zero": false}, "axis": null},
"text": {"field": "panel"}
}
},
{
"data": {"name": "pB"},
"transform": [{"filter": "datum.k == 'n'"}],
"mark": {"type": "text", "align": "left", "baseline": "middle", "font": "Liberation Sans", "fontSize": 13, "color": "#111"},
"encoding": {
"x": {"datum": 0, "type": "quantitative", "scale": {"domain": [0, 1], "range": [706, 960], "nice": false}, "axis": null},
"y": {"field": "line", "type": "quantitative", "scale": {"domain": [0, 21], "range": [110, 433], "nice": false, "zero": false}, "axis": null},
"text": {"field": "t"}
}
},
{
"data": {"name": "pB"},
"transform": [{"filter": "datum.k == 'a'"}],
"mark": {"type": "text", "align": "left", "baseline": "middle", "dx": 88, "font": "Liberation Sans", "fontSize": 13, "color": "#111"},
"encoding": {
"x": {"datum": 0, "type": "quantitative", "scale": {"domain": [0, 1], "range": [706, 960], "nice": false}, "axis": null},
"y": {"field": "line", "type": "quantitative", "scale": {"domain": [0, 21], "range": [110, 433], "nice": false, "zero": false}, "axis": null},
"text": {"field": "t"}
}
},
{
"data": {"name": "pB"},
"transform": [{"filter": "datum.k == 'b'"}],
"mark": {"type": "text", "align": "left", "baseline": "middle", "font": "Liberation Sans", "fontSize": 12.3, "fontWeight": "bold", "color": "#111"},
"encoding": {
"x": {"datum": 0, "type": "quantitative", "scale": {"domain": [0, 1], "range": [706, 960], "nice": false}, "axis": null},
"y": {"field": "line", "type": "quantitative", "scale": {"domain": [0, 21], "range": [110, 433], "nice": false, "zero": false}, "axis": null},
"text": {"field": "t"}
}
}
]
},
{
"width": 979, "height": 274,
"view": {"stroke": "#7f9dd6", "strokeWidth": 1.2, "cornerRadius": 30, "fill": "white"},
"resolve": {"scale": {"x": "independent", "y": "independent"}},
"layer": [
{
"data": {"name": "tcells"},
"transform": [{"filter": "datum.r > 0 && datum.c == 0"}],
"mark": {"type": "bar", "height": 19.7, "stroke": "#e0e0e0", "strokeWidth": 0.6},
"encoding": {
"x": {"datum": 0, "type": "quantitative", "scale": {"domain": [0, 1, 2, 3, 4], "range": [38, 243, 475, 610, 738], "nice": false, "zero": false}, "axis": null},
"x2": {"datum": 4},
"y": {"field": "r", "type": "quantitative", "scale": {"domain": [0, 1, 10], "range": [44, 66, 243.3], "nice": false, "zero": false}, "axis": null},
"fill": {"condition": {"test": "datum.r % 2 == 1", "value": "#f6f6f6"}, "value": "#ffffff"}
}
},
{
"data": {"name": "tcells"},
"transform": [{"filter": "datum.r > 0 && datum.c == 0"}],
"mark": {"type": "bar", "height": 19.7, "stroke": "#e0e0e0", "strokeWidth": 0.6},
"encoding": {
"x": {"datum": 3, "type": "quantitative", "scale": {"domain": [0, 1, 2, 3, 4], "range": [38, 243, 475, 610, 738], "nice": false, "zero": false}, "axis": null},
"x2": {"datum": 4},
"y": {"field": "r", "type": "quantitative", "scale": {"domain": [0, 1, 10], "range": [44, 66, 243.3], "nice": false, "zero": false}, "axis": null},
"fill": {"condition": {"test": "datum.r % 2 == 1", "value": "#ececec"}, "value": "#f3f3f3"}
}
},
{
"data": {"name": "tcells"},
"transform": [{"filter": "datum.r == 10 && datum.c == 0"}],
"mark": {"type": "bar", "height": 19.7, "fill": "#cdcdcd"},
"encoding": {
"x": {"datum": 0, "type": "quantitative", "scale": {"domain": [0, 1, 2, 3, 4], "range": [38, 243, 475, 610, 738], "nice": false, "zero": false}, "axis": null},
"x2": {"datum": 3},
"y": {"field": "r", "type": "quantitative", "scale": {"domain": [0, 1, 10], "range": [44, 66, 243.3], "nice": false, "zero": false}, "axis": null}
}
},
{
"data": {"name": "tcells"},
"transform": [{"filter": "datum.r == 0 && datum.c == 0"}],
"mark": {"type": "bar", "height": 24, "fill": "#2d5d8d"},
"encoding": {
"x": {"datum": 0, "type": "quantitative", "scale": {"domain": [0, 1, 2, 3, 4], "range": [38, 243, 475, 610, 738], "nice": false, "zero": false}, "axis": null},
"x2": {"datum": 4},
"y": {"field": "r", "type": "quantitative", "scale": {"domain": [0, 1, 10], "range": [44, 66, 243.3], "nice": false, "zero": false}, "axis": null}
}
},
{
"data": {"name": "tcells"},
"transform": [{"filter": "datum.r == 0"}],
"mark": {"type": "text", "align": "left", "baseline": "middle", "dx": 7, "font": "Liberation Sans", "fontSize": 7.5, "fontWeight": "bold", "color": "#ffffff"},
"encoding": {
"x": {"field": "c", "type": "quantitative", "scale": {"domain": [0, 1, 2, 3, 4], "range": [38, 243, 475, 610, 738], "nice": false, "zero": false}, "axis": null},
"y": {"field": "r", "type": "quantitative", "scale": {"domain": [0, 1, 10], "range": [44, 66, 243.3], "nice": false, "zero": false}, "axis": null},
"text": {"field": "v", "type": "nominal"}
}
},
{
"data": {"name": "tcells"},
"transform": [{"filter": "datum.r > 0"}],
"mark": {"type": "text", "align": "left", "baseline": "middle", "dx": 3, "font": "Liberation Sans", "fontSize": 7, "color": "#333"},
"encoding": {
"x": {"field": "c", "type": "quantitative", "scale": {"domain": [0, 1, 2, 3, 4], "range": [38, 243, 475, 610, 738], "nice": false, "zero": false}, "axis": null},
"y": {"field": "r", "type": "quantitative", "scale": {"domain": [0, 1, 10], "range": [44, 66, 243.3], "nice": false, "zero": false}, "axis": null},
"text": {"field": "v", "type": "nominal"}
}
},
{
"data": {"values": [{"panel": "C"}]},
"mark": {"type": "text", "align": "left", "baseline": "middle", "font": "Liberation Sans", "fontSize": 15, "fontWeight": "bold", "color": "#000"},
"encoding": {
"x": {"datum": 0, "type": "quantitative", "scale": {"domain": [0, 1], "range": [40, 60], "nice": false}, "axis": null},
"y": {"datum": 0, "type": "quantitative", "scale": {"domain": [0, 1], "range": [15, 30], "nice": false, "zero": false}, "axis": null},
"text": {"field": "panel"}
}
},
{
"data": {"name": "pC"},
"mark": {"type": "text", "align": "left", "baseline": "middle", "font": "Liberation Sans", "fontSize": 14, "color": "#111"},
"encoding": {
"x": {"datum": 0, "type": "quantitative", "scale": {"domain": [0, 1], "range": [751, 970], "nice": false}, "axis": null},
"y": {"field": "line", "type": "quantitative", "scale": {"domain": [0, 9], "range": [40, 184.9], "nice": false, "zero": false}, "axis": null},
"text": {"field": "t"}
}
}
]
}
]
}
